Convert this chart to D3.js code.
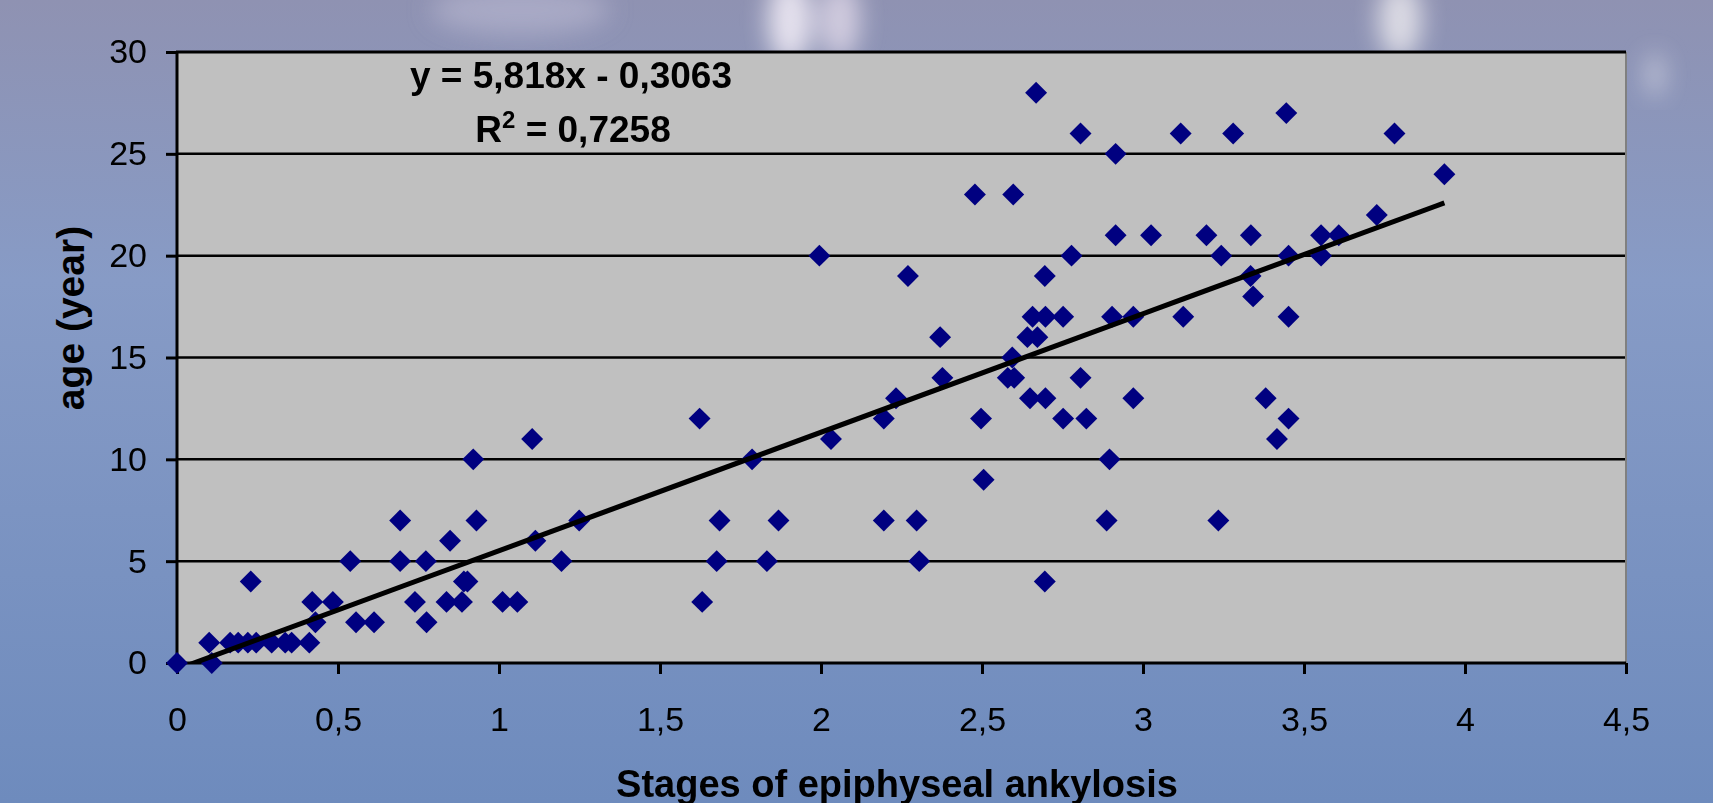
<!DOCTYPE html>
<html lang="en">
  <head>
    <title>Epiphyseal ankylosis</title>
    <meta charset="UTF-8">
    <script src="https://d3js.org/d3.v7.min.js"></script>
    <style>
      * {
        margin: 0;
        padding: 0;
      }
      body {
        overflow: hidden;
        background: #7f96c2;
      }
      svg {
        display: block;
        font-family: 'Liberation Sans', Arial, sans-serif;
      }
    </style>
  </head>
  <body>
    <script>
      // stage of ankylosis (x) and age in years (y)
      const stage = [0, 0.108, 0.10, 0.165, 0.19, 0.22, 0.246, 0.294, 0.336, 0.356, 0.411,
        0.229, 0.42, 0.43, 0.484, 0.538, 0.556, 0.612, 0.693, 0.693, 0.739, 0.773, 0.775,
        0.837, 0.848, 0.885, 0.891, 0.902, 0.92, 0.93, 1.011, 1.057, 1.103, 1.113, 1.194, 1.249,
        1.623, 1.631, 1.676, 1.685, 1.786, 1.832, 1.868, 1.995, 2.031, 2.195, 2.195, 2.233,
        2.27, 2.297, 2.305, 2.37, 2.377, 2.478, 2.497, 2.505, 2.58, 2.594, 2.597, 2.6, 2.641,
        2.649, 2.657, 2.668, 2.672, 2.695, 2.695, 2.697, 2.697, 2.752, 2.752, 2.778, 2.806,
        2.806, 2.824, 2.887, 2.896, 2.904, 2.915, 2.915, 2.97, 2.97, 3.025, 3.117, 3.125,
        3.197, 3.234, 3.243, 3.28, 3.334, 3.335, 3.342, 3.381, 3.416, 3.445, 3.452, 3.452,
        3.452, 3.553, 3.553, 3.608, 3.726, 3.781, 3.936]
      const age = [0, 0, 1, 1, 1, 1, 1, 1, 1, 1, 1,
        4, 3, 2, 3, 5, 2, 2, 7, 5, 3, 5, 2,
        3, 6, 3, 4, 4, 10, 7, 3, 3, 11, 6, 5, 7,
        12, 3, 5, 7, 10, 5, 7, 20, 11, 12, 7, 13,
        19, 7, 5, 16, 14, 23, 12, 9, 14, 15, 23, 14, 16,
        13, 17, 28, 16, 19, 4, 17, 13, 17, 12, 20, 26,
        14, 12, 7, 10, 17, 25, 21, 17, 13, 21, 26, 17,
        21, 7, 20, 26, 19, 21, 18, 13, 11, 27, 20, 17,
        12, 21, 20, 21, 22, 26, 24]

      const xTicks = [0, 0.5, 1, 1.5, 2, 2.5, 3, 3.5, 4, 4.5]
      const yTicks = [0, 5, 10, 15, 20, 25, 30]
      const slope = 5.818
      const intercept = -0.3063

      const width = 1713
      const height = 803
      const pLeft = 177, pRight = 1626, pTop = 52, pBottom = 663

      const comma = (d) => String(d).replace('.', ',')

      const x = d3.scaleLinear().domain([0, 4.5]).range([pLeft, pRight])
      const y = d3.scaleLinear().domain([0, 30]).range([pBottom, pTop])

      const svg = d3.select('body')
                    .append('svg')
                    .attr('width', width)
                    .attr('height', height)

      // background, a soft blue photo-like wash
      const defs = svg.append('defs')
      const grad = defs.append('linearGradient')
                       .attr('id', 'bg')
                       .attr('x1', 0).attr('y1', 0).attr('x2', 0).attr('y2', 1)
      grad.append('stop').attr('offset', '0%').attr('stop-color', '#8f92b2')
      grad.append('stop').attr('offset', '35%').attr('stop-color', '#879bc6')
      grad.append('stop').attr('offset', '100%').attr('stop-color', '#6e8bbd')
      defs.append('filter').attr('id', 'blur')
          .append('feGaussianBlur').attr('stdDeviation', 12)
      defs.append('clipPath').attr('id', 'plot')
          .append('rect')
          .attr('x', pLeft).attr('y', pTop)
          .attr('width', pRight - pLeft).attr('height', pBottom - pTop)

      svg.append('rect')
         .attr('width', width)
         .attr('height', height)
         .attr('fill', 'url(#bg)')

      // light streaks along the top edge
      const glow = svg.append('g').attr('filter', 'url(#blur)')
      glow.append('ellipse').attr('cx', 790).attr('cy', 20).attr('rx', 22).attr('ry', 45)
          .attr('fill', '#f6f0f8').attr('opacity', 0.85)
      glow.append('ellipse').attr('cx', 840).attr('cy', 20).attr('rx', 20).attr('ry', 40)
          .attr('fill', '#efe6f2').attr('opacity', 0.7)
      glow.append('ellipse').attr('cx', 1400).attr('cy', 20).attr('rx', 22).attr('ry', 40)
          .attr('fill', '#f6f3f4').attr('opacity', 0.75)
      glow.append('ellipse').attr('cx', 520).attr('cy', 10).attr('rx', 90).attr('ry', 25)
          .attr('fill', '#d0cde0').attr('opacity', 0.4)
      glow.append('ellipse').attr('cx', 1655).attr('cy', 75).attr('rx', 8).attr('ry', 22)
          .attr('fill', '#eeeef4').attr('opacity', 0.6)

      // plot area
      svg.append('rect')
         .attr('x', pLeft).attr('y', pTop)
         .attr('width', pRight - pLeft).attr('height', pBottom - pTop)
         .attr('fill', '#c0c0c0')

      svg.append('g')
         .selectAll('line')
         .data(yTicks.filter((d) => d > 0 && d < 30))
         .enter()
         .append('line')
         .attr('x1', pLeft).attr('x2', pRight)
         .attr('y1', (d) => y(d)).attr('y2', (d) => y(d))
         .attr('stroke', '#000')
         .attr('stroke-width', 2.5)

      // right edge grey, other edges black
      svg.append('line')
         .attr('x1', pRight).attr('x2', pRight).attr('y1', pTop).attr('y2', pBottom)
         .attr('stroke', '#808080').attr('stroke-width', 2)
      svg.append('line')
         .attr('x1', pLeft - 1).attr('x2', pRight).attr('y1', pTop).attr('y2', pTop)
         .attr('stroke', '#000').attr('stroke-width', 3)

      const yAxis = d3.axisLeft(y).tickValues(yTicks).tickSize(11).tickPadding(19)
      const xAxis = d3.axisBottom(x).tickValues(xTicks).tickSize(11).tickPadding(33)
                      .tickFormat(comma)

      const gy = svg.append('g')
                    .attr('transform', 'translate(' + pLeft + ',0)')
                    .call(yAxis)
      const gx = svg.append('g')
                    .attr('transform', 'translate(0,' + pBottom + ')')
                    .call(xAxis)

      for (const g of [gx, gy]) {
        g.select('.domain').attr('stroke', '#000').attr('stroke-width', 3)
        g.selectAll('.tick line').attr('stroke', '#000').attr('stroke-width', 3)
        g.selectAll('.tick text')
         .attr('fill', '#000')
         .style('font-size', '34px')
         .style('font-family', "'Liberation Sans', Arial, sans-serif")
      }
      gx.select('.domain').attr('d', 'M' + (pLeft - 1) + ',0H' + pRight)
      gy.select('.domain').attr('d', 'M0,' + (pTop - 1) + 'V' + (pBottom + 1))

      // data points
      svg.append('g')
         .selectAll('path')
         .data(stage.map((s, i) => [s, age[i]]))
         .enter()
         .append('path')
         .attr('d', d3.symbol().type(d3.symbolSquare).size(240))
         .attr('transform', (d) => 'translate(' + x(d[0]) + ',' + y(d[1]) + ') rotate(45)')
         .attr('fill', '#000080')

      // linear trend line
      const xMax = d3.max(stage)
      svg.append('line')
         .attr('clip-path', 'url(#plot)')
         .attr('x1', x(0)).attr('y1', y(intercept))
         .attr('x2', x(xMax)).attr('y2', y(slope * xMax + intercept))
         .attr('stroke', '#000')
         .attr('stroke-width', 5)

      // equation
      const eq = svg.append('g')
                    .attr('font-weight', 'bold')
                    .attr('font-size', '37px')
                    .attr('text-anchor', 'middle')
      eq.append('text')
        .attr('x', 571).attr('y', 88)
        .text('y = ' + comma(slope) + 'x - ' + comma(-intercept))
      const r2 = eq.append('text').attr('x', 573).attr('y', 142)
      r2.append('tspan').text('R')
      r2.append('tspan').attr('dy', -14).attr('font-size', '24px').text('2')
      r2.append('tspan').attr('dy', 14).text(' = 0,7258')

      // axis titles
      svg.append('text')
         .attr('x', 897).attr('y', 797)
         .attr('text-anchor', 'middle')
         .attr('font-weight', 'bold')
         .attr('font-size', '38px')
         .text('Stages of epiphyseal ankylosis')

      svg.append('text')
         .attr('transform', 'translate(84,318) rotate(-90)')
         .attr('text-anchor', 'middle')
         .attr('font-weight', 'bold')
         .attr('font-size', '39px')
         .text('age (year)')
    </script>
  </body>
</html>
